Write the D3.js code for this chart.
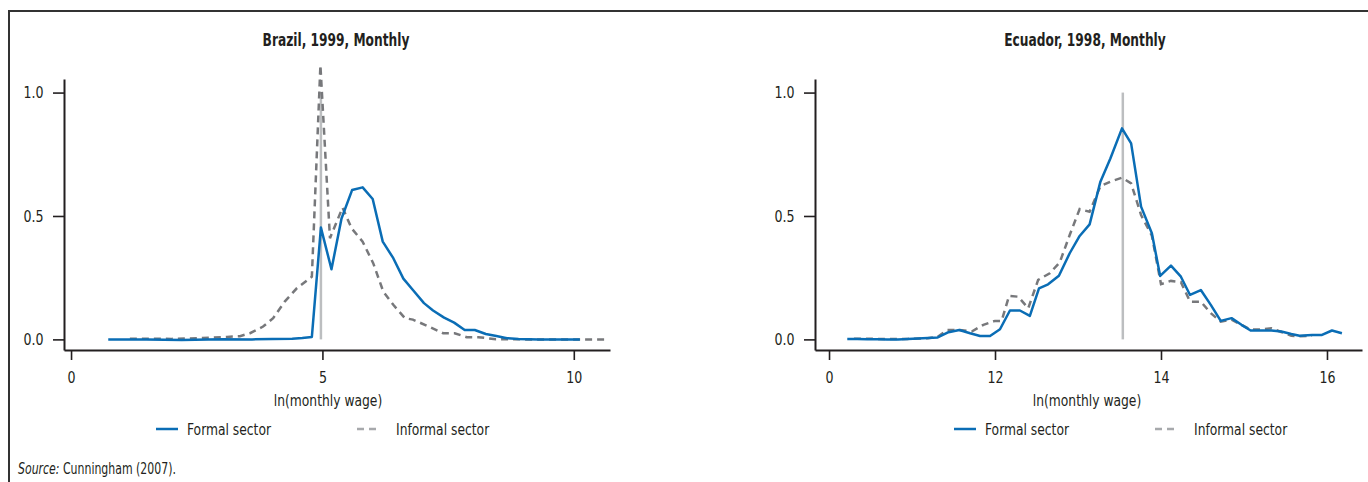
<!DOCTYPE html>
<html>
<head>
<meta charset="utf-8">
<script src="https://cdn.jsdelivr.net/npm/d3@7"></script>
<style>
  body { margin: 0; background: #fff; }
  svg text { font-family: "Liberation Sans Narrow", "DejaVu Sans Condensed", sans-serif; fill: #231f20; }
</style>
</head>
<body>
<svg id="chart" width="1368" height="482"></svg>
<script>
// Brazil, 1999 - wage densities (x = ln monthly wage)
const brazilFormalX = [0.74, 1.5, 2.2, 3.0, 3.6, 4.0, 4.4, 4.6, 4.79, 4.97, 5.18, 5.38, 5.59, 5.80, 6.00, 6.20, 6.41, 6.61, 6.80, 7.02, 7.20, 7.42, 7.62, 7.83, 8.03, 8.25, 8.46, 8.67, 8.90, 9.3, 10.12];
const brazilFormal  = [0.000, 0.000, -0.002, 0.001, 0.000, 0.002, 0.003, 0.006, 0.010, 0.453, 0.284, 0.490, 0.605, 0.616, 0.569, 0.396, 0.329, 0.246, 0.200, 0.147, 0.117, 0.088, 0.068, 0.038, 0.038, 0.022, 0.014, 0.005, 0.002, 0.000, 0.000];
const brazilInformalX = [1.17, 2.0, 2.56, 3.1, 3.36, 3.56, 3.82, 4.02, 4.25, 4.49, 4.79, 4.96, 5.15, 5.40, 5.58, 5.80, 6.01, 6.21, 6.41, 6.64, 6.80, 7.14, 7.40, 7.63, 7.87, 8.10, 8.45, 9.0, 10.68];
const brazilInformal  = [0.003, 0.002, 0.005, 0.010, 0.013, 0.025, 0.052, 0.086, 0.153, 0.207, 0.254, 1.111, 0.410, 0.534, 0.450, 0.396, 0.309, 0.194, 0.140, 0.086, 0.080, 0.050, 0.025, 0.025, 0.009, 0.009, 0.001, 0.000, 0.000];
const brazilMinWage = 4.97;

// Ecuador, 1998
const ecuadorFormalX = [10.22, 10.34, 10.46, 10.58, 10.70, 10.83, 10.95, 11.07, 11.19, 11.31, 11.44, 11.57, 11.70, 11.82, 11.94, 12.06, 12.18, 12.30, 12.42, 12.53, 12.64, 12.77, 12.90, 13.02, 13.14, 13.27, 13.39, 13.53, 13.64, 13.76, 13.89, 13.99, 14.12, 14.24, 14.35, 14.48, 14.60, 14.72, 14.85, 14.97, 15.08, 15.20, 15.33, 15.45, 15.57, 15.67, 15.82, 15.94, 16.06, 16.18];
const ecuadorFormal  = [0.002, 0.002, 0.001, 0.001, 0.000, 0.000, 0.002, 0.004, 0.006, 0.008, 0.029, 0.038, 0.025, 0.014, 0.014, 0.041, 0.117, 0.117, 0.095, 0.207, 0.223, 0.258, 0.349, 0.419, 0.466, 0.639, 0.733, 0.855, 0.794, 0.538, 0.430, 0.257, 0.299, 0.254, 0.180, 0.200, 0.140, 0.075, 0.086, 0.059, 0.036, 0.036, 0.036, 0.032, 0.022, 0.015, 0.018, 0.018, 0.036, 0.025];
const ecuadorInformalX = [10.30, 10.58, 10.95, 11.19, 11.31, 11.42, 11.57, 11.72, 11.86, 12.00, 12.08, 12.17, 12.28, 12.40, 12.52, 12.66, 12.78, 12.90, 13.02, 13.14, 13.27, 13.39, 13.53, 13.64, 13.76, 13.89, 14.00, 14.12, 14.24, 14.35, 14.48, 14.60, 14.72, 14.85, 14.97, 15.08, 15.20, 15.33, 15.45, 15.57, 15.67, 15.82];
const ecuadorInformal  = [0.003, 0.002, 0.002, 0.005, 0.010, 0.038, 0.038, 0.032, 0.059, 0.075, 0.075, 0.176, 0.173, 0.126, 0.241, 0.268, 0.312, 0.423, 0.528, 0.517, 0.621, 0.639, 0.655, 0.632, 0.504, 0.420, 0.224, 0.237, 0.232, 0.153, 0.153, 0.106, 0.072, 0.080, 0.059, 0.040, 0.040, 0.045, 0.030, 0.015, 0.013, 0.015];
const ecuadorMinWage = 13.54;

const yTicks = [0, 0.5, 1.0];
const yTickLabels = ["0.0", "0.5", "1.0"];
const brazilTicks = [0, 5, 10];
const brazilTickLabels = ["0", "5", "10"];
const ecuadorTicks = [10, 12, 14, 16];
const ecuadorTickLabels = ["0", "12", "14", "16"]; // as printed in the original

const seriesNames = ["Formal sector", "Informal sector"];

const blue = "#0a6db5";
const grey = "#77787b";
const ink = "#231f20";

const svg = d3.select("#chart");

// the original uses a condensed face, so squeeze the text horizontally
function label(parent, x, y, text, size, squeeze, anchor) {
  return parent.append("text")
    .attr("transform", `translate(${x},${y}) scale(${squeeze},1)`)
    .attr("text-anchor", anchor || "start")
    .attr("font-size", size)
    .text(text);
}

// frame
svg.append("line").attr("x1", 8).attr("x2", 1368).attr("y1", 11).attr("y2", 11)
  .attr("stroke", "#333").attr("stroke-width", 2);
svg.append("line").attr("x1", 9).attr("x2", 9).attr("y1", 10).attr("y2", 482)
  .attr("stroke", "#333").attr("stroke-width", 2);

const panels = [
  {
    title: "Brazil, 1999, Monthly",
    xDomain: [-0.14, 10.72], xRange: [64, 610],
    ticks: brazilTicks, tickLabels: brazilTickLabels,
    formalX: brazilFormalX, formal: brazilFormal,
    informalX: brazilInformalX, informal: brazilInformal,
    minWage: brazilMinWage,
    titleX: 336, labelX: 328,
    legend: [156, 357]
  },
  {
    title: "Ecuador, 1998, Monthly",
    xDomain: [9.831, 16.422], xRange: [815, 1362],
    ticks: ecuadorTicks, tickLabels: ecuadorTickLabels,
    formalX: ecuadorFormalX, formal: ecuadorFormal,
    informalX: ecuadorInformalX, informal: ecuadorInformal,
    minWage: ecuadorMinWage,
    titleX: 1085, labelX: 1087,
    legend: [954, 1155]
  }
];

const y = d3.scaleLinear().domain([-0.043, 1.055]).range([350, 79]);

panels.forEach(p => {
  const g = svg.append("g");
  const x = d3.scaleLinear().domain(p.xDomain).range(p.xRange);

  label(g, p.titleX, 46, p.title, 17, 0.8, "middle").attr("font-weight", "bold");

  // axes
  const xAxis = d3.axisBottom(x).tickValues(p.ticks)
    .tickFormat((d, i) => p.tickLabels[i]).tickSize(10).tickSizeOuter(0).tickPadding(11);
  const gx = g.append("g").attr("transform", `translate(0,${y.range()[0]})`).call(xAxis);

  const yAxis = d3.axisLeft(y).tickValues(yTicks)
    .tickFormat((d, i) => yTickLabels[i]).tickSize(11).tickSizeOuter(0).tickPadding(13);
  const gy = g.append("g").attr("transform", `translate(${p.xRange[0]},0)`).call(yAxis);

  [gx, gy].forEach(a => {
    a.select(".domain").attr("stroke", ink).attr("stroke-width", 2);
    a.selectAll(".tick line").attr("stroke", ink).attr("stroke-width", 1.6);
    a.selectAll(".tick text").attr("font-size", 16.5).attr("fill", ink)
      .attr("transform", "scale(0.85,1)")
      .attr("font-family", "Liberation Sans Narrow, DejaVu Sans Condensed, sans-serif");
  });

  label(g, p.labelX, 406, "ln(monthly wage)", 16.5, 0.83, "middle");

  // minimum wage reference line
  g.append("line")
    .attr("x1", x(p.minWage)).attr("x2", x(p.minWage))
    .attr("y1", y(0)).attr("y2", y(1))
    .attr("stroke", "#bcbec0").attr("stroke-width", 2.5);

  const line = d3.line().x(d => x(d[0])).y(d => y(d[1]));

  g.append("path")
    .datum(d3.zip(p.informalX, p.informal))
    .attr("d", line).attr("fill", "none")
    .attr("stroke", grey).attr("stroke-width", 2.5)
    .attr("stroke-dasharray", "7,5");

  g.append("path")
    .datum(d3.zip(p.formalX, p.formal))
    .attr("d", line).attr("fill", "none")
    .attr("stroke", blue).attr("stroke-width", 2.5)
    .attr("stroke-linejoin", "round");

  // legend
  const ly = 429;
  g.append("line").attr("x1", p.legend[0]).attr("x2", p.legend[0] + 22)
    .attr("y1", ly).attr("y2", ly).attr("stroke", blue).attr("stroke-width", 2.5);
  label(g, p.legend[0] + 31, ly + 6, seriesNames[0], 16.5, 0.83);
  g.append("line").attr("x1", p.legend[1]).attr("x2", p.legend[1] + 22)
    .attr("y1", ly).attr("y2", ly).attr("stroke", "#a7a9ac").attr("stroke-width", 2.5)
    .attr("stroke-dasharray", "7,5");
  label(g, p.legend[1] + 39, ly + 6, seriesNames[1], 16.5, 0.83);
});

// source note
const src = label(svg, 18, 474, "", 16, 0.76);
src.append("tspan").attr("font-style", "italic").text("Source:");
src.append("tspan").text(" Cunningham (2007).");
</script>
</body>
</html>
